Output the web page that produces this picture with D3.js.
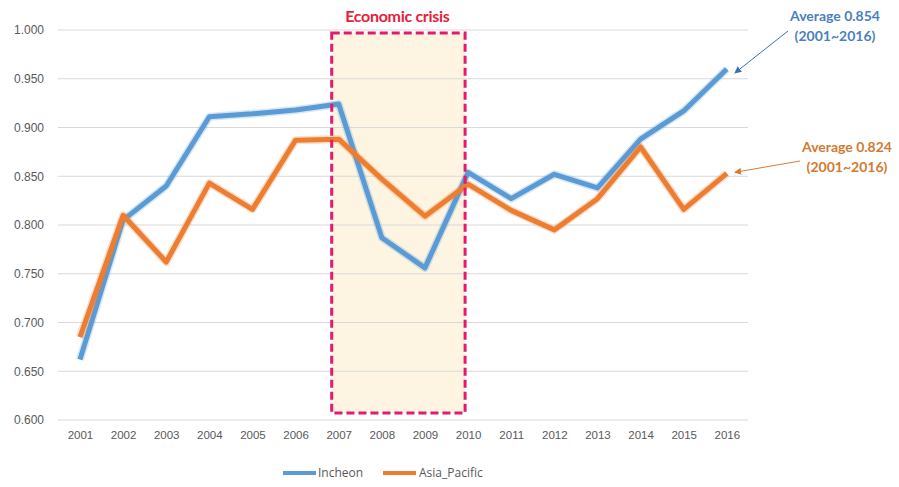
<!DOCTYPE html>
<html><head><meta charset="utf-8">
<script src="https://cdn.jsdelivr.net/npm/d3@7"></script>
<style>body{margin:0;background:#fff;}svg{display:block;font-family:"Open Sans","DejaVu Sans",sans-serif;}</style>
</head><body><svg id="c" width="899" height="487"></svg>
<script>
const years = ["2001","2002","2003","2004","2005","2006","2007","2008","2009","2010","2011","2012","2013","2014","2015","2016"];
const incheon = [0.662,0.805,0.840,0.911,0.914,0.918,0.924,0.787,0.756,0.854,0.827,0.852,0.838,0.888,0.917,0.960];
const asiaPacific = [0.685,0.810,0.762,0.843,0.816,0.887,0.888,0.847,0.809,0.842,0.815,0.795,0.827,0.880,0.816,0.853];
const yTicks = [0.600,0.650,0.700,0.750,0.800,0.850,0.900,0.950,1.000];
const seriesNames = ["Incheon","Asia_Pacific"];
const crisisRange = ["2007","2010"];
const avgLabels = ["Average 0.854","Average 0.824"];
const avgPeriod = "(2001~2016)";

const svg = d3.select("#c");
const x = d3.scalePoint().domain(years).range([58.4,748.4]).padding(0.5);
const y = d3.scaleLinear().domain([0.6,1.0]).range([420,30]);
const colors = ["#5b9bd5","#ed7d31"];

// crisis box
const cx0 = x(crisisRange[0]) - 7, cx1 = x(crisisRange[1]) - 3;
svg.append("rect").attr("x",cx0).attr("y",33).attr("width",cx1-cx0).attr("height",380)
  .attr("fill","#fdf5e1");

// grid
svg.append("g").selectAll("line").data(yTicks).join("line")
  .attr("x1",58).attr("x2",748).attr("y1",d=>y(d)).attr("y2",d=>y(d))
  .attr("stroke","#d9d9d9").attr("stroke-width",1);

// y axis labels
const yAxis = d3.axisLeft(y).tickValues(yTicks).tickFormat(d3.format(".3f")).tickSize(0).tickPadding(0);
const gy = svg.append("g").attr("transform","translate(44,0)").call(yAxis);
gy.select(".domain").remove();
gy.selectAll("text").attr("fill","#595959").attr("font-size","12px");

// x axis labels
const xAxis = d3.axisBottom(x).tickSize(0).tickPadding(0);
const gx = svg.append("g").attr("transform","translate(0,431)").call(xAxis);
gx.select(".domain").remove();
gx.selectAll("text").attr("fill","#595959").attr("font-size","11.5px");

// lines
const line = d3.line().x((d,i)=>x(years[i])).y(d=>y(d));
[incheon, asiaPacific].forEach((s,k)=>{
  svg.append("path").datum(s).attr("d",line).attr("fill","none")
    .attr("stroke",colors[k]).attr("stroke-opacity",0.25).attr("stroke-width",8).attr("stroke-linejoin","round");
  svg.append("path").datum(s).attr("d",line).attr("fill","none")
    .attr("stroke",colors[k]).attr("stroke-width",5).attr("stroke-linejoin","round");
});

// crisis dashed border
svg.append("rect").attr("x",cx0).attr("y",33).attr("width",cx1-cx0).attr("height",380)
  .attr("fill","none").attr("stroke","#e5196e").attr("stroke-width",3).attr("stroke-dasharray","8,4");
svg.append("text").attr("x",(cx0+cx1)/2 - 1).attr("y",22).attr("text-anchor","middle")
  .attr("font-family","Lato,sans-serif").attr("font-weight","bold")
  .attr("font-size","16px").attr("fill","#e8213b").attr("letter-spacing","-0.3").text("Economic crisis");

// annotations
const defs = svg.append("defs");
[["#3b6fb6","ab"],["#d97b35","ao"]].forEach(([c,id])=>{
  defs.append("marker").attr("id",id).attr("viewBox","0 0 10 10").attr("refX",9).attr("refY",5)
    .attr("markerWidth",7).attr("markerHeight",7).attr("orient","auto")
    .append("path").attr("d","M0,0L10,5L0,10z").attr("fill",c);
});
const ann = [
  {lbl:avgLabels[0], col:"#4a7fc1", ac:"#3b6fb6", m:"ab", tx:835, ty:21, x1:788, y1:31, x2:x(years[15])+8, y2:y(incheon[15])+4},
  {lbl:avgLabels[1], col:"#d27a30", ac:"#d97b35", m:"ao", tx:847, ty:152, x1:800, y1:161, x2:x(years[15])+8, y2:y(asiaPacific[15])-1}
];
ann.forEach(a=>{
  svg.append("line").attr("x1",a.x1).attr("y1",a.y1).attr("x2",a.x2).attr("y2",a.y2)
    .attr("stroke",a.ac).attr("stroke-width",1).attr("marker-end",`url(#${a.m})`);
  const t = svg.append("text").attr("text-anchor","middle").attr("font-weight","bold")
    .attr("font-family","Lato,sans-serif").attr("font-size","14px").attr("fill",a.col);
  t.append("tspan").attr("x",a.tx).attr("y",a.ty).text(a.lbl);
  t.append("tspan").attr("x",a.tx).attr("y",a.ty+20).text(avgPeriod);
});

// legend
const lg = [{x:283,tx:318},{x:383,tx:419}];
seriesNames.forEach((n,k)=>{
  svg.append("line").attr("x1",lg[k].x).attr("x2",lg[k].x+33).attr("y1",473).attr("y2",473)
    .attr("stroke",colors[k]).attr("stroke-width",4);
  svg.append("text").attr("x",lg[k].tx).attr("y",477).attr("font-size","12px").attr("fill","#595959").text(n);
});
</script></body></html>
